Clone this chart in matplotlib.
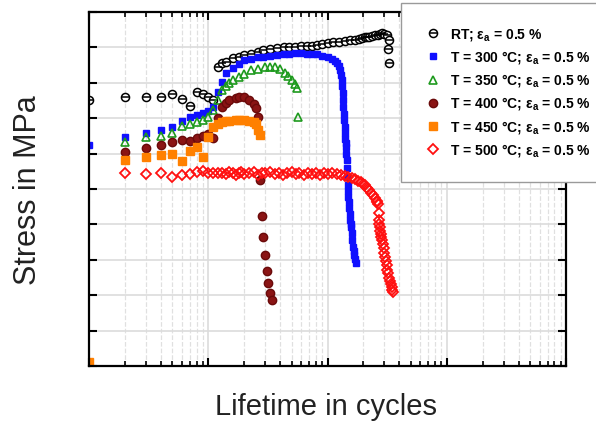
import matplotlib.pyplot as plt
from matplotlib.ticker import MultipleLocator, LogLocator, NullFormatter

plt.rcParams['font.family'] = ['Liberation Sans', 'DejaVu Sans']
plt.rcParams['mathtext.fontset'] = 'custom'
plt.rcParams['mathtext.rm'] = 'Liberation Sans'
plt.rcParams['mathtext.default'] = 'regular'

# cycles / stress (MPa)
rt_n = [1, 2, 3, 4, 5, 6, 7, 8, 9, 10, 11,
        12, 13, 14, 16, 18, 20, 23, 26, 29, 33, 38, 43, 48, 53, 60, 67, 74, 82, 90,
        101, 112, 125, 140, 155, 170, 182, 195, 205, 215, 225, 235, 250, 265, 276, 286,
        300, 315, 328, 322, 325]
rt_s = [376, 380, 380, 380, 384, 377, 367, 387, 384, 380, 376,
        422, 428, 429, 435, 437, 439, 441, 443, 446, 448, 449, 450, 451, 451, 452, 452, 452, 454, 455,
        456, 457, 458, 459, 460, 461, 462, 463, 464, 464, 465, 466, 467, 468, 469, 470,
        469, 467, 460, 448, 428]

t300_n = [1, 2, 3, 4, 5, 6, 7, 8, 9, 10,
          11, 12, 13, 14, 16, 18, 20, 23, 26, 29, 33, 38, 43, 48, 53, 60, 67, 74, 82, 90,
          100, 109, 115, 120, 124, 127, 130, 132, 133, 134, 135, 136, 137, 138, 139, 140,
          141, 142, 143, 144, 145, 146, 147, 148, 149, 150, 151, 152, 153, 155, 156, 158,
          160, 162, 164, 166, 168, 170, 173]
t300_s = [312, 324, 329, 333, 337, 346, 352, 355, 358, 360,
          366, 387, 401, 414, 421, 426, 432, 434, 436, 437, 438, 439, 440, 441, 442, 442, 441, 441, 440, 438,
          436, 434, 431, 428, 424, 418, 411, 404, 395, 386, 376, 366, 356, 347, 338, 329,
          321, 315, 309, 300, 291, 279, 267, 255, 247, 239, 231, 223, 215, 206, 201, 196,
          188, 178, 168, 162, 157, 151, 145]

t350_n = [2, 3, 4, 5, 6, 7, 8, 9, 10, 11, 12, 13, 14, 15, 16, 18, 20, 23, 26, 30,
          33, 36, 40, 44, 47, 50, 53, 55, 57]
t350_s = [316, 323, 325, 329, 339, 342, 345, 347, 352, 362, 376, 390, 396, 400, 404, 408, 412, 418, 420, 422,
          423, 422, 419, 414, 409, 404, 398, 393, 352]

t400_n = [2, 3, 4, 5, 6, 7, 8, 9, 10, 11, 12, 13, 14, 15, 17, 18, 20, 22, 24, 25, 26,
          27, 28, 29, 30, 31, 32, 33, 34]
t400_s = [302, 308, 312, 316, 319, 318, 322, 325, 328, 322, 350, 366, 371, 376, 379, 380, 380, 376, 370, 364, 352,
          263, 212, 182, 157, 134, 117, 103, 93]

t450_n = [1, 2, 3, 4, 5, 6, 7, 8, 9, 10, 11, 12, 13, 14, 15, 17, 18, 20, 22, 24, 25, 26, 27]
t450_s = [6, 291, 295, 298, 299, 290, 304, 309, 295, 323, 338, 342, 345, 346, 346, 347, 347, 347, 346, 345,
          342, 333, 326]

t500_n = [2, 3, 4, 5, 6, 7, 8, 9, 10,
          11, 12, 13, 14, 15, 16, 17, 18, 19, 20,
          22, 24, 26, 28, 30, 33, 36, 39, 42, 46,
          50, 54, 58, 63, 68, 74, 80, 87, 94, 101,
          110, 120, 130, 140, 150, 160, 170, 180, 190, 199,
          207, 214, 223, 232, 241, 250, 258, 262, 265, 268,
          270, 272, 275, 278, 280, 283, 286, 290, 295, 300,
          304, 308, 313, 318, 322, 328, 335, 341, 347, 350, 354]
t500_s = [273, 271, 273, 267, 270, 271, 274, 275, 273,
          273, 272, 273, 271, 274, 272, 270, 273, 274, 271,
          272, 274, 270, 273, 272, 274, 271, 273, 270, 272,
          274, 271, 273, 270, 272, 271, 273, 270, 272, 271,
          272, 271, 270, 268, 267, 266, 264, 262, 260, 257,
          255, 252, 249, 245, 241, 237, 233, 231, 229, 216,
          206, 201, 196, 191, 187, 182, 178, 172, 166, 160,
          154, 148, 142, 136, 131, 125, 120, 116, 112, 108, 105]

eps = 'ε$_{a}$ = 0.5 %'
labels = ['RT; ' + eps, 'T = 300 °C; ' + eps, 'T = 350 °C; ' + eps,
          'T = 400 °C; ' + eps, 'T = 450 °C; ' + eps, 'T = 500 °C; ' + eps]

fig = plt.figure(figsize=(5.96, 4.26), dpi=100)
ax = fig.add_axes([89 / 596, 1 - 366 / 426, 477 / 596, 354 / 426])

h_rt1, = ax.plot(rt_n, rt_s, 'o', ms=5.8, mfc='white', mec='black', mew=1.1)
h_rt2, = ax.plot(rt_n, rt_s, '_', ms=5.8, color='black', mew=1.1)
h300, = ax.plot(t300_n, t300_s, 's', ms=5, color='#1010ff', mec='#1010ff')
h350, = ax.plot(t350_n, t350_s, '^', ms=5.8, mfc='none', mec='#1e9a1e', mew=1.2)
h400, = ax.plot(t400_n, t400_s, 'o', ms=6, color='#8a1414', mec='#6a0a0a')
h450, = ax.plot(t450_n, t450_s, 's', ms=5.5, color='#ff8000', mec='#ff8000')
h500, = ax.plot(t500_n, t500_s, 'D', ms=5, mfc='none', mec='#ff1010', mew=1.3)

ax.set_xscale('log')
ax.set_xlim(1, 10000)
ax.set_ylim(0, 500)
ax.yaxis.set_major_locator(MultipleLocator(50))
ax.xaxis.set_major_locator(LogLocator(base=10))
ax.xaxis.set_minor_locator(LogLocator(base=10, subs=range(2, 10)))
ax.xaxis.set_major_formatter(NullFormatter())
ax.xaxis.set_minor_formatter(NullFormatter())
ax.yaxis.set_major_formatter(NullFormatter())

ax.grid(which='major', color='#dcdcdc', lw=1.2, ls='-')
ax.grid(which='minor', axis='x', color='#e0e0e0', lw=0.9, ls='--')
ax.set_axisbelow(True)
ax.tick_params(which='major', direction='in', length=6, width=1.5,
               top=True, right=True)
ax.tick_params(which='minor', direction='in', length=3.5, width=1.2,
               top=True, right=True)
for sp in ax.spines.values():
    sp.set_linewidth(1.6)

fig.text(28 / 596, 1 - 190 / 426, 'Stress in MPa', rotation=90, fontsize=22,
         ha='center', va='center', color='#222222')
fig.text(326 / 596, 1 - 407 / 426, 'Lifetime in cycles', fontsize=21,
         ha='center', va='center', color='#222222')

leg = fig.legend([(h_rt1, h_rt2), h300, h350, h400, h450, h500], labels,
                 loc='upper left', bbox_to_anchor=(401 / 596, 1 - 3 / 426),
                 borderaxespad=0, fancybox=False, framealpha=1,
                 edgecolor='#9a9a9a', borderpad=1.7, labelspacing=0.45,
                 handlelength=1.2, handletextpad=0.6,
                 prop={'size': 10, 'weight': 'bold'})
leg.get_frame().set_linewidth(1.0)

fig.savefig('out.png', dpi=100)
